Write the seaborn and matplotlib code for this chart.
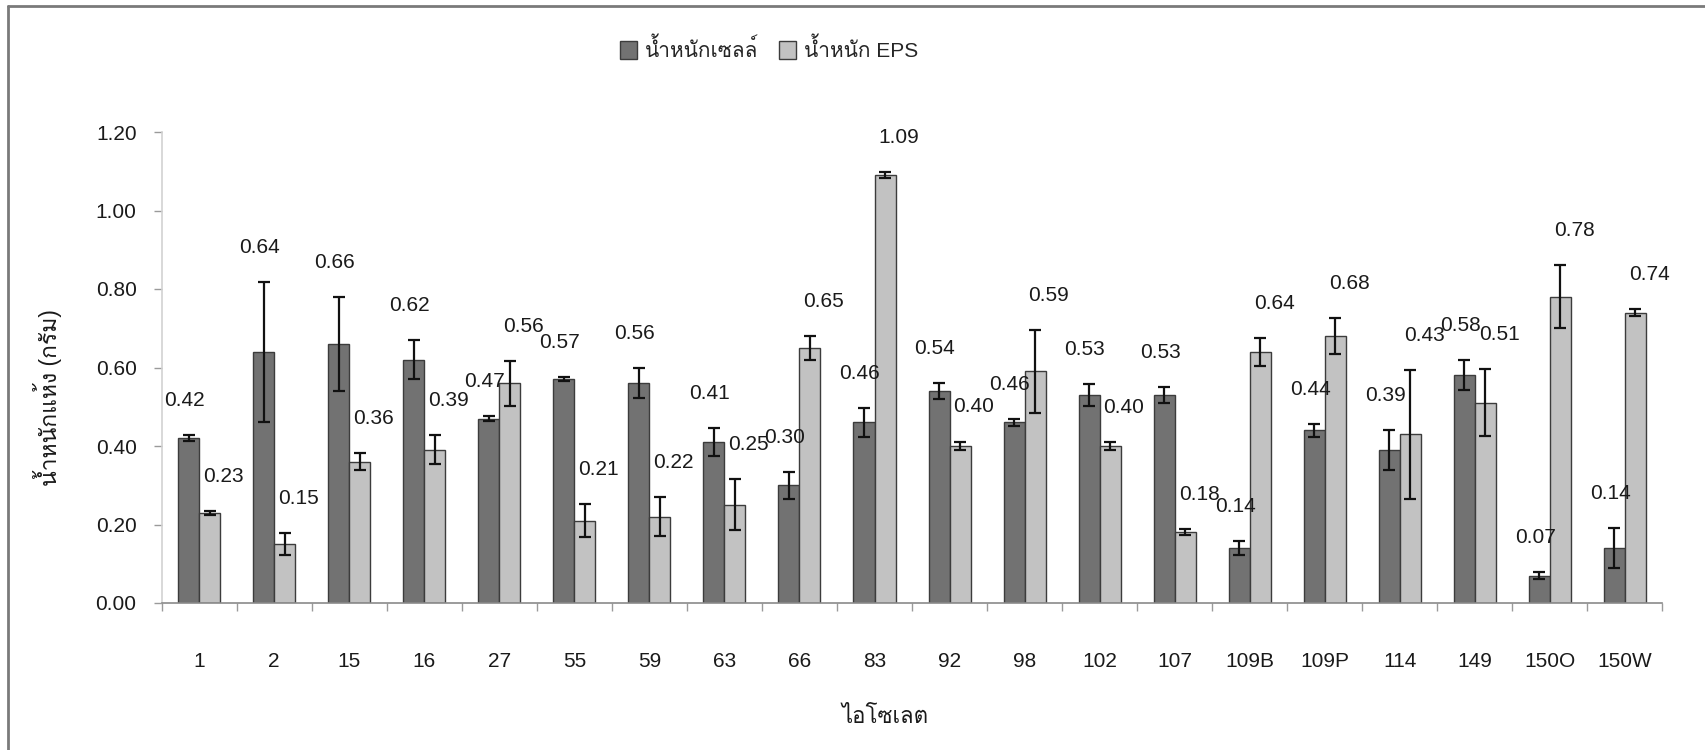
import numpy as np
import pandas as pd
import matplotlib
matplotlib.use("Agg")
import matplotlib.pyplot as plt
import seaborn as sns
from matplotlib import font_manager as fm
from matplotlib.ft2font import FT2Font
from matplotlib.patches import Patch
from matplotlib.lines import Line2D
from matplotlib.ticker import FixedLocator, FormatStrFormatter

# ---- data -------------------------------------------------------------
isolates = ["1", "2", "15", "16", "27", "55", "59", "63", "66", "83",
            "92", "98", "102", "107", "109B", "109P", "114", "149", "150O", "150W"]
cell_weight = [0.42, 0.64, 0.66, 0.62, 0.47, 0.57, 0.56, 0.41, 0.30, 0.46,
               0.54, 0.46, 0.53, 0.53, 0.14, 0.44, 0.39, 0.58, 0.07, 0.14]
cell_err = [0.008, 0.178, 0.120, 0.050, 0.006, 0.005, 0.038, 0.036, 0.034, 0.036,
            0.021, 0.009, 0.028, 0.021, 0.017, 0.016, 0.051, 0.038, 0.008, 0.050]
eps_weight = [0.23, 0.15, 0.36, 0.39, 0.56, 0.21, 0.22, 0.25, 0.65, 1.09,
              0.40, 0.59, 0.40, 0.18, 0.64, 0.68, 0.43, 0.51, 0.78, 0.74]
eps_err = [0.005, 0.028, 0.022, 0.037, 0.057, 0.042, 0.050, 0.065, 0.030, 0.008,
           0.011, 0.106, 0.009, 0.008, 0.035, 0.045, 0.164, 0.085, 0.080, 0.008]
series_names = ["น้ำหนักเซลล์", "น้ำหนัก EPS"]
y_ticks = [0.0, 0.2, 0.4, 0.6, 0.8, 1.0, 1.2]
y_label = "น้ำหนักแห้ง (กรัม)"
x_label = "ไอโซเลต"

# ---- fonts: Latin text in Liberation Sans, Thai from any font that has it
thai_family = None
for entry in fm.fontManager.ttflist:
    try:
        cmap = FT2Font(entry.fname).get_charmap()
    except Exception:
        continue
    if 0x0E19 in cmap and 0x0E49 in cmap and 0x0E2B in cmap:
        thai_family = entry.name
        break

sns.set_theme(style="white")
families = ["Liberation Sans"] + ([thai_family] if thai_family else []) + ["DejaVu Sans"]
plt.rcParams["font.family"] = families

df = pd.DataFrame({
    "isolate": isolates * 2,
    "series": [series_names[0]] * len(isolates) + [series_names[1]] * len(isolates),
    "weight": cell_weight + eps_weight,
})
errors = [cell_err, eps_err]
colors = ["#727272", "#c2c2c2"]
edge = "#3c3c3c"
text_color = "#1a1a1a"

fig = plt.figure(figsize=(17.06, 7.5), dpi=100)
ax = fig.add_axes([0.0947, 0.196, 0.8798, 0.628])

sns.barplot(data=df, x="isolate", y="weight", hue="series", order=isolates,
            hue_order=series_names, palette=colors, width=0.56, errorbar=None,
            edgecolor=edge, linewidth=1.0, saturation=1, legend=False, ax=ax)

label_nudge = [-3, 10]
for k, cont in enumerate(ax.containers[:2]):
    xs = [p.get_x() + p.get_width() / 2 for p in cont.patches]
    hs = [p.get_height() for p in cont.patches]
    ax.errorbar(xs, hs, yerr=errors[k], fmt="none", ecolor="#111111",
                elinewidth=1.6, capsize=4.5, capthick=1.6, zorder=5)
    for x, h, e in zip(xs, hs, errors[k]):
        ax.annotate(f"{h:.2f}", (x, h + e), xytext=(label_nudge[k], 25),
                    textcoords="offset points", ha="center", va="center",
                    fontsize=15, color=text_color, zorder=6)

ax.set_ylim(0, 1.2)
ax.set_xlim(-0.5, len(isolates) - 0.5)
ax.yaxis.set_major_locator(FixedLocator(y_ticks))
ax.yaxis.set_major_formatter(FormatStrFormatter("%.2f"))
ax.set_xlabel("")
ax.set_ylabel("")

ax.tick_params(axis="y", which="major", length=6, width=1, color="#9a9a9a",
               direction="out", labelsize=15, labelcolor=text_color, left=True, pad=12)
ax.tick_params(axis="x", which="major", length=0, labelsize=15,
               labelcolor=text_color, pad=35)
ax.xaxis.set_minor_locator(FixedLocator(np.arange(-0.5, len(isolates), 1.0)))
ax.tick_params(axis="x", which="minor", length=6, width=1, color="#9a9a9a",
               direction="out", bottom=True)

for side in ["top", "right"]:
    ax.spines[side].set_visible(False)
ax.spines["left"].set_color("#d2d2d2")
ax.spines["left"].set_linewidth(1.2)
ax.spines["bottom"].set_color("#8a8a8a")
ax.spines["bottom"].set_linewidth(1.2)

handles = [Patch(facecolor=c, edgecolor=edge, linewidth=1.0) for c in colors]
fig.legend(handles, series_names, loc="center", bbox_to_anchor=(0.451, 0.934),
           ncol=2, frameon=False, fontsize=15, handlelength=0.8, handleheight=1.0,
           handletextpad=0.4, columnspacing=1.0)

fig.text(0.028, 0.47, y_label, rotation=90, ha="center", va="center",
         fontsize=16.5, color=text_color)
fig.text(0.519, 0.043, x_label, ha="center", va="center",
         fontsize=16, color=text_color)

# outer frame of the chart area
fig.add_artist(Line2D([0.0047, 0.0047], [0.0, 0.992], transform=fig.transFigure,
                      color="#7a7a7a", linewidth=2.0))
fig.add_artist(Line2D([0.0047, 1.0], [0.992, 0.992], transform=fig.transFigure,
                      color="#7a7a7a", linewidth=2.0))

fig.savefig("out.png", dpi=100, facecolor="white")
